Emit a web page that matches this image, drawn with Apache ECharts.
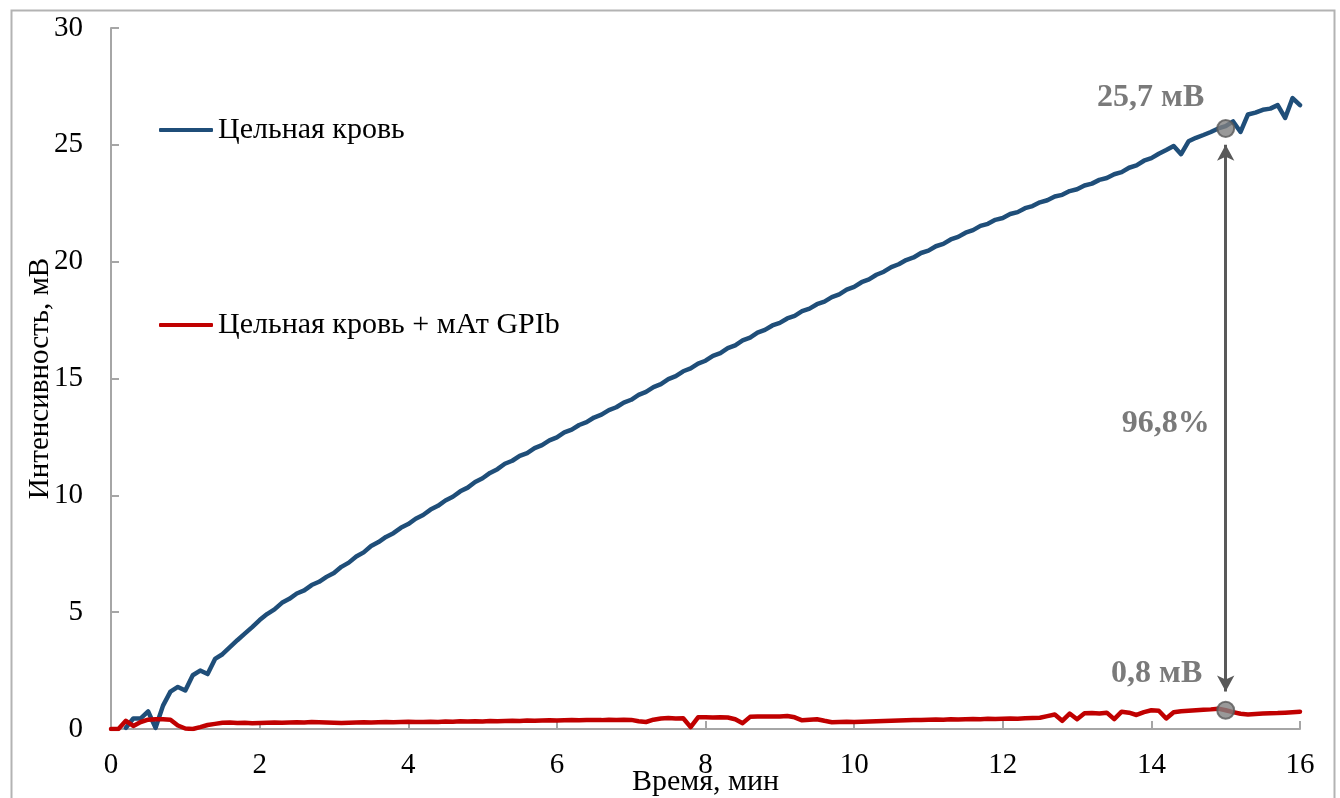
<!DOCTYPE html>
<html>
<head>
<meta charset="utf-8">
<script src="https://cdn.jsdelivr.net/npm/echarts@6/dist/echarts.min.js"></script>
<style>
html,body{margin:0;padding:0;background:#fff;overflow:hidden;}
#chart{width:1340px;height:798px;}
</style>
</head>
<body>
<div id="chart"></div>
<script>
// ---- data ----
const times = [
 0.0,0.1,0.2,0.3,0.4,0.5,0.6,0.7,0.8,0.9,
 1.0,1.1,1.2,1.3,1.4,1.5,1.6,1.7,1.8,1.9,
 2.0,2.1,2.2,2.3,2.4,2.5,2.6,2.7,2.8,2.9,
 3.0,3.1,3.2,3.3,3.4,3.5,3.6,3.7,3.8,3.9,
 4.0,4.1,4.2,4.3,4.4,4.5,4.6,4.7,4.8,4.9,
 5.0,5.1,5.2,5.3,5.4,5.5,5.6,5.7,5.8,5.9,
 6.0,6.1,6.2,6.3,6.4,6.5,6.6,6.7,6.8,6.9,
 7.0,7.1,7.2,7.3,7.4,7.5,7.6,7.7,7.8,7.9,
 8.0,8.1,8.2,8.3,8.4,8.5,8.6,8.7,8.8,8.9,
 9.0,9.1,9.2,9.3,9.4,9.5,9.6,9.7,9.8,9.9,
 10.0,10.1,10.2,10.3,10.4,10.5,10.6,10.7,10.8,10.9,
 11.0,11.1,11.2,11.3,11.4,11.5,11.6,11.7,11.8,11.9,
 12.0,12.1,12.2,12.3,12.4,12.5,12.6,12.7,12.8,12.9,
 13.0,13.1,13.2,13.3,13.4,13.5,13.6,13.7,13.8,13.9,
 14.0,14.1,14.2,14.3,14.4,14.5,14.6,14.7,14.8,14.9,
 15.0,15.1,15.2,15.3,15.4,15.5,15.6,15.7,15.8,15.9,
 16.0
];
const wholeBlood = [
 null,null,0.05,0.45,0.45,0.75,0.05,1.0,1.6,1.8,
 1.65,2.3,2.5,2.35,3.0,3.2,3.5,3.8,4.08,4.36,
 4.66,4.92,5.12,5.4,5.57,5.8,5.93,6.16,6.3,6.51,
 6.68,6.94,7.12,7.38,7.56,7.83,8.0,8.22,8.38,8.61,
 8.77,9.0,9.16,9.39,9.55,9.78,9.94,10.17,10.33,10.57,
 10.73,10.96,11.12,11.35,11.48,11.69,11.81,12.02,12.15,12.35,
 12.48,12.69,12.81,13.01,13.13,13.33,13.45,13.65,13.77,13.97,
 14.09,14.3,14.43,14.63,14.76,14.97,15.1,15.31,15.43,15.64,
 15.76,15.97,16.09,16.3,16.42,16.63,16.75,16.96,17.08,17.27,
 17.38,17.57,17.68,17.88,17.99,18.18,18.29,18.48,18.6,18.8,
 18.92,19.12,19.24,19.44,19.57,19.77,19.89,20.07,20.18,20.37,
 20.47,20.66,20.76,20.95,21.06,21.24,21.35,21.53,21.62,21.79,
 21.87,22.04,22.12,22.29,22.38,22.54,22.63,22.79,22.86,23.02,
 23.1,23.26,23.34,23.5,23.58,23.74,23.83,24.02,24.12,24.32,
 24.43,24.62,24.78,24.95,24.6,25.15,25.3,25.42,25.55,25.7,
 25.8,26.0,25.55,26.3,26.38,26.5,26.55,26.7,26.15,27.0,
 26.7
];
const wholeBloodMAb = [
 0,0,0.35,0.13,0.3,0.4,0.42,0.42,0.4,0.15,
 0.02,0.0,0.08,0.17,0.22,0.27,0.28,0.26,0.27,0.25,
 0.26,0.27,0.28,0.27,0.28,0.29,0.28,0.3,0.29,0.28,
 0.27,0.26,0.27,0.28,0.29,0.28,0.29,0.3,0.29,0.3,
 0.31,0.3,0.3,0.31,0.3,0.32,0.31,0.33,0.32,0.33,
 0.32,0.34,0.33,0.34,0.35,0.34,0.36,0.35,0.36,0.37,
 0.36,0.37,0.38,0.37,0.38,0.39,0.38,0.4,0.39,0.4,
 0.39,0.33,0.3,0.4,0.45,0.47,0.45,0.46,0.08,0.5,
 0.5,0.49,0.5,0.49,0.42,0.25,0.52,0.53,0.53,0.54,
 0.54,0.56,0.5,0.37,0.4,0.42,0.35,0.29,0.3,0.31,
 0.3,0.31,0.32,0.33,0.34,0.35,0.36,0.37,0.38,0.39,
 0.4,0.41,0.4,0.42,0.41,0.42,0.43,0.42,0.44,0.43,
 0.44,0.45,0.44,0.46,0.47,0.48,0.55,0.62,0.35,0.66,
 0.42,0.67,0.68,0.66,0.7,0.42,0.74,0.7,0.6,0.72,
 0.8,0.78,0.45,0.72,0.76,0.78,0.8,0.82,0.84,0.87,
 0.8,0.72,0.65,0.62,0.64,0.66,0.67,0.68,0.7,0.72,
 0.74
];
const seriesNames = ['Цельная кровь', 'Цельная кровь + мАт GPIb'];
const xTicks = {min: 0, max: 16, interval: 2};
const yTicks = {min: 0, max: 30, interval: 5};
// annotation values
const annotTime = 15;
const annotTop = 25.7;
const annotBottom = 0.8;
const annotTopLabel = '25,7 мВ';
const annotBottomLabel = '0,8 мВ';
const annotPercent = '96,8%';
const annotPercentY = 13.05;
const arrowTop = 25.0;
const arrowBottom = 1.6;

const FONT = '"Liberation Serif", "Times New Roman", serif';
const pair = (arr) => times.map((t, i) => [t, arr[i]]);

const chart = echarts.init(document.getElementById('chart'), null, {renderer: 'canvas'});
const axisGray = '#a6a6a6';
const annotGray = '#595959';

chart.setOption({
  animation: false,
  backgroundColor: '#fff',
  graphic: [{
    type: 'rect', left: 9, top: 8, z: -10,
    shape: {width: 1323, height: 805},
    style: {fill: 'none', stroke: '#b3b3b3', lineWidth: 2}
  }],
  grid: {left: 111, right: 40, top: 28, bottom: 69, containLabel: false, outerBoundsMode: 'none'},
  legend: {
    orient: 'vertical', left: 154, top: 110, itemGap: 165,
    itemWidth: 54, itemHeight: 4, icon: 'roundRect',
    data: seriesNames,
    textStyle: {fontFamily: FONT, fontSize: 30, color: '#000', lineHeight: 30}
  },
  xAxis: {
    type: 'value', min: xTicks.min, max: xTicks.max, interval: xTicks.interval,
    name: 'Время, мин', nameLocation: 'middle', nameGap: 38, nameMoveOverlap: false,
    nameTextStyle: {fontFamily: FONT, fontSize: 30, color: '#000'},
    axisLine: {show: true, lineStyle: {color: axisGray, width: 2}},
    axisTick: {show: true, inside: true, length: 8, lineStyle: {color: axisGray, width: 2}},
    axisLabel: {fontFamily: FONT, fontSize: 29, color: '#000', margin: 22},
    splitLine: {show: false}
  },
  yAxis: {
    type: 'value', min: yTicks.min, max: yTicks.max, interval: yTicks.interval,
    name: 'Интенсивность, мВ', nameLocation: 'middle', nameGap: 56, nameMoveOverlap: false,
    nameTextStyle: {fontFamily: FONT, fontSize: 29, color: '#000'},
    axisLine: {show: true, lineStyle: {color: axisGray, width: 2}},
    axisTick: {show: true, inside: true, length: 8, lineStyle: {color: axisGray, width: 2}},
    axisLabel: {fontFamily: FONT, fontSize: 29, color: '#000', margin: 28},
    splitLine: {show: false}
  },
  series: [
    {
      name: seriesNames[0], type: 'line', data: pair(wholeBlood),
      showSymbol: false, symbol: 'none', z: 3,
      lineStyle: {color: '#1F4E79', width: 4.5, join: 'round', cap: 'round'},
      itemStyle: {color: '#1F4E79'}
    },
    {
      name: seriesNames[1], type: 'line', data: pair(wholeBloodMAb),
      showSymbol: false, symbol: 'none', z: 4,
      lineStyle: {color: '#C00000', width: 4.5, join: 'round', cap: 'round'},
      itemStyle: {color: '#C00000'}
    },
    {
      name: 'annot', type: 'scatter', z: 10,
      symbolSize: 17,
      itemStyle: {color: '#7f7f7f', borderColor: annotGray, borderWidth: 2},
      data: [
        {value: [annotTime, annotTop], label: {show: true, formatter: annotTopLabel, position: 'top', offset: [-75, 0]}},
        {value: [annotTime, annotBottom], label: {show: true, formatter: annotBottomLabel, position: 'top', offset: [-69, -6]}},
        {value: [annotTime, annotPercentY], symbolSize: 0, label: {show: true, formatter: annotPercent, position: 'left', distance: 16}}
      ],
      label: {fontFamily: FONT, fontSize: 32, fontWeight: 'bold', color: annotGray},
      markLine: {
        silent: true, symbol: ['arrow', 'arrow'], symbolSize: [13, 16],
        label: {show: false},
        lineStyle: {color: annotGray, width: 3, type: 'solid'},
        data: [[{coord: [annotTime, arrowTop]}, {coord: [annotTime, arrowBottom]}]]
      }
    }
  ]
});
</script>
</body>
</html>
